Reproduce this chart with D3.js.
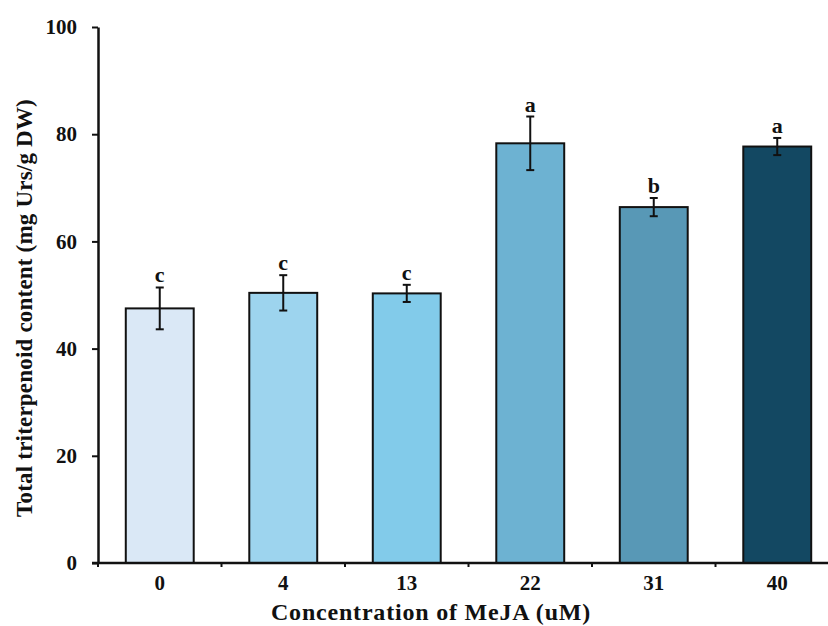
<!DOCTYPE html>
<html>
<head>
<meta charset="utf-8">
<script src="https://cdn.jsdelivr.net/npm/d3@7"></script>
<style>
  body { margin: 0; background: #fff; }
  text { font-family: "Palatino Linotype", "Book Antiqua", "Liberation Serif", "DejaVu Serif", serif; font-weight: bold; fill: #111; }
</style>
</head>
<body>
<svg class="chart" width="828" height="626"></svg>
<script>
// data
const concentrations = ["0", "4", "13", "22", "31", "40"];
const meanValues = [47.5, 50.4, 50.3, 78.3, 66.4, 77.7];
const errValues = [3.9, 3.3, 1.6, 5.0, 1.7, 1.6];
const groupLetters = ["c", "c", "c", "a", "b", "a"];
const barColors = ["#dae8f6", "#9dd4ee", "#82cbea", "#6db2d2", "#5898b6", "#134862"];
const yTicks = [0, 20, 40, 60, 80, 100];

const width = 828, height = 626;
const margin = { left: 98, top: 27, bottom: 63 };
const plotRight = 839; // the figure is cut off at the right edge

const svg = d3.select(".chart");

const x = d3.scaleBand()
    .domain(concentrations)
    .range([margin.left, plotRight])
    .paddingInner(0.45)
    .paddingOuter(0.225);

const y = d3.scaleLinear()
    .domain([0, 100])
    .range([height - margin.bottom, margin.top]);

// bars
svg.append("g")
  .selectAll("rect")
  .data(meanValues)
  .join("rect")
    .attr("x", (d, i) => x(concentrations[i]))
    .attr("y", d => y(d))
    .attr("width", x.bandwidth())
    .attr("height", d => y(0) - y(d))
    .attr("fill", (d, i) => barColors[i])
    .attr("stroke", "#111")
    .attr("stroke-width", 2);

// error bars
const errG = svg.append("g").attr("stroke", "#111").attr("stroke-width", 2);
meanValues.forEach((d, i) => {
    const cx = x(concentrations[i]) + x.bandwidth() / 2;
    errG.append("line").attr("x1", cx).attr("x2", cx).attr("y1", y(d + errValues[i])).attr("y2", y(d - errValues[i]));
    errG.append("line").attr("x1", cx - 4).attr("x2", cx + 4).attr("y1", y(d + errValues[i])).attr("y2", y(d + errValues[i]));
    errG.append("line").attr("x1", cx - 4).attr("x2", cx + 4).attr("y1", y(d - errValues[i])).attr("y2", y(d - errValues[i]));
});

// significance letters
svg.append("g")
  .selectAll("text")
  .data(groupLetters)
  .join("text")
    .attr("x", (d, i) => x(concentrations[i]) + x.bandwidth() / 2)
    .attr("y", (d, i) => y(meanValues[i] + errValues[i]) - 5)
    .attr("text-anchor", "middle")
    .attr("font-size", 22)
    .text(d => d);

// y axis
const yAxis = svg.append("g")
    .attr("transform", `translate(${margin.left},0)`)
    .call(d3.axisLeft(y).tickValues(yTicks).tickSize(6).tickSizeOuter(0).tickPadding(15));
yAxis.select(".domain").attr("stroke", "#111").attr("stroke-width", 2.5);
yAxis.selectAll(".tick line").attr("stroke", "#111").attr("stroke-width", 2);
yAxis.selectAll(".tick text").attr("font-size", 21).attr("font-family", null).attr("fill", "#111");

// x axis
const xAxis = svg.append("g")
    .attr("transform", `translate(0,${y(0)})`)
    .call(d3.axisBottom(x).tickSize(0).tickPadding(12));
xAxis.select(".domain").attr("stroke", "#111").attr("stroke-width", 2.5)
    .attr("d", `M${margin.left - 6},0H${plotRight}`);
xAxis.selectAll(".tick text").attr("font-size", 21).attr("font-family", null).attr("fill", "#111");

// little boundary ticks between categories
const step = x.step();
svg.append("g")
  .selectAll("line")
  .data(d3.range(concentrations.length + 1))
  .join("line")
    .attr("x1", i => margin.left + i * step)
    .attr("x2", i => margin.left + i * step)
    .attr("y1", y(0))
    .attr("y2", y(0) + 4)
    .attr("stroke", "#111")
    .attr("stroke-width", 2);

// axis titles
svg.append("text")
    .attr("x", 431)
    .attr("y", 620)
    .attr("text-anchor", "middle")
    .attr("font-size", 24)
    .attr("letter-spacing", 0.8)
    .text("Concentration of MeJA (uM)");

svg.append("text")
    .attr("transform", "translate(32,308) rotate(-90)")
    .attr("text-anchor", "middle")
    .attr("font-size", 23)
    .attr("letter-spacing", 0.2)
    .text("Total triterpenoid content (mg Urs/g DW)");
</script>
</body>
</html>
